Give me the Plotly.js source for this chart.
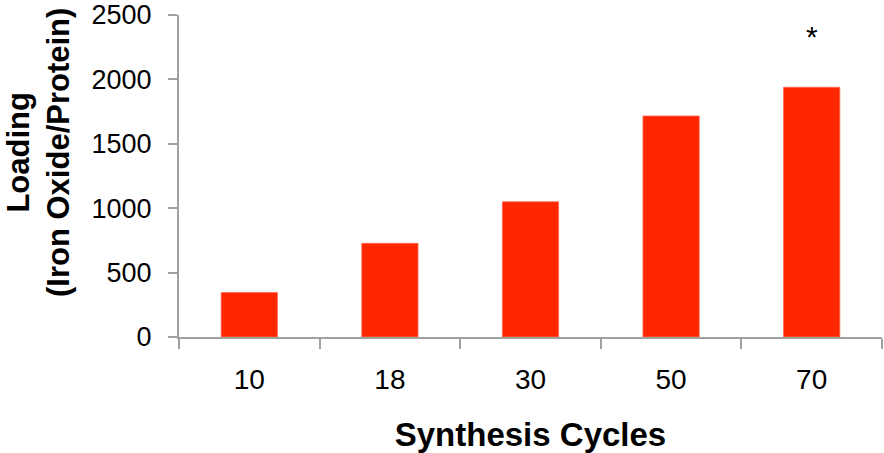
<!DOCTYPE html>
<html>
<head>
<meta charset="utf-8">
<script src="https://cdn.plot.ly/plotly-3.0.1.min.js"></script>
<style>html,body{margin:0;padding:0;background:#fff;}#chart{width:884px;height:453px;}</style>
</head>
<body>
<div id="chart"></div>
<script>
var categories = ["10", "18", "30", "50", "70"];
var loading = [345, 727, 1050, 1716, 1939];
var yTicks = [0, 500, 1000, 1500, 2000, 2500];
var markLabel = "*";
var markCategory = "70";
var markValue = 2330;

var FONT = "Liberation Sans, Arial, sans-serif";
var trace = {
  type: "bar",
  x: categories,
  y: loading,
  marker: {color: "#ff2600", line: {color: "#ff6a50", width: 0.8}},
  hoverinfo: "skip"
};
var layout = {
  width: 884, height: 453,
  margin: {l: 179, r: 2, t: 15, b: 116},
  paper_bgcolor: "#fff", plot_bgcolor: "#fff",
  showlegend: false,
  bargap: 0.6,
  font: {family: FONT, color: "#000"},
  xaxis: {
    type: "category",
    range: [-0.5, categories.length - 0.5],
    showgrid: false, zeroline: false,
    showline: true, linecolor: "#a0a0a0", linewidth: 2,
    ticks: "outside", tickson: "boundaries", ticklen: 10, tickcolor: "#a0a0a0", tickwidth: 2,
    tickangle: 0,
    ticklabelstandoff: 16,
    tickfont: {size: 28, family: FONT},
    title: {text: "<b>Synthesis Cycles</b>", font: {size: 33, family: FONT}, standoff: 29}
  },
  yaxis: {
    range: [0, 2500],
    tickvals: yTicks,
    ticktext: yTicks.map(String),
    showgrid: false, zeroline: false,
    showline: true, linecolor: "#a0a0a0", linewidth: 2,
    ticks: "outside", ticklen: 9, tickcolor: "#a0a0a0", tickwidth: 2,
    ticklabelstandoff: 11,
    tickfont: {size: 27, family: FONT}
  },
  annotations: [
    {
      text: "<b>Loading<br>(Iron Oxide/Protein)</b>",
      xref: "paper", yref: "paper",
      x: -0.2006, y: 0.5745, xanchor: "center", yanchor: "middle",
      textangle: -90, showarrow: false,
      font: {size: 31, family: FONT, color: "#000"}
    },
    {
      text: markLabel,
      xref: "x", yref: "y",
      x: categories.indexOf(markCategory), y: markValue, xanchor: "center", yanchor: "middle",
      showarrow: false,
      font: {size: 30, family: FONT, color: "#000"}
    }
  ]
};
Plotly.newPlot("chart", [trace], layout, {staticPlot: true, displayModeBar: false});
</script>
</body>
</html>
